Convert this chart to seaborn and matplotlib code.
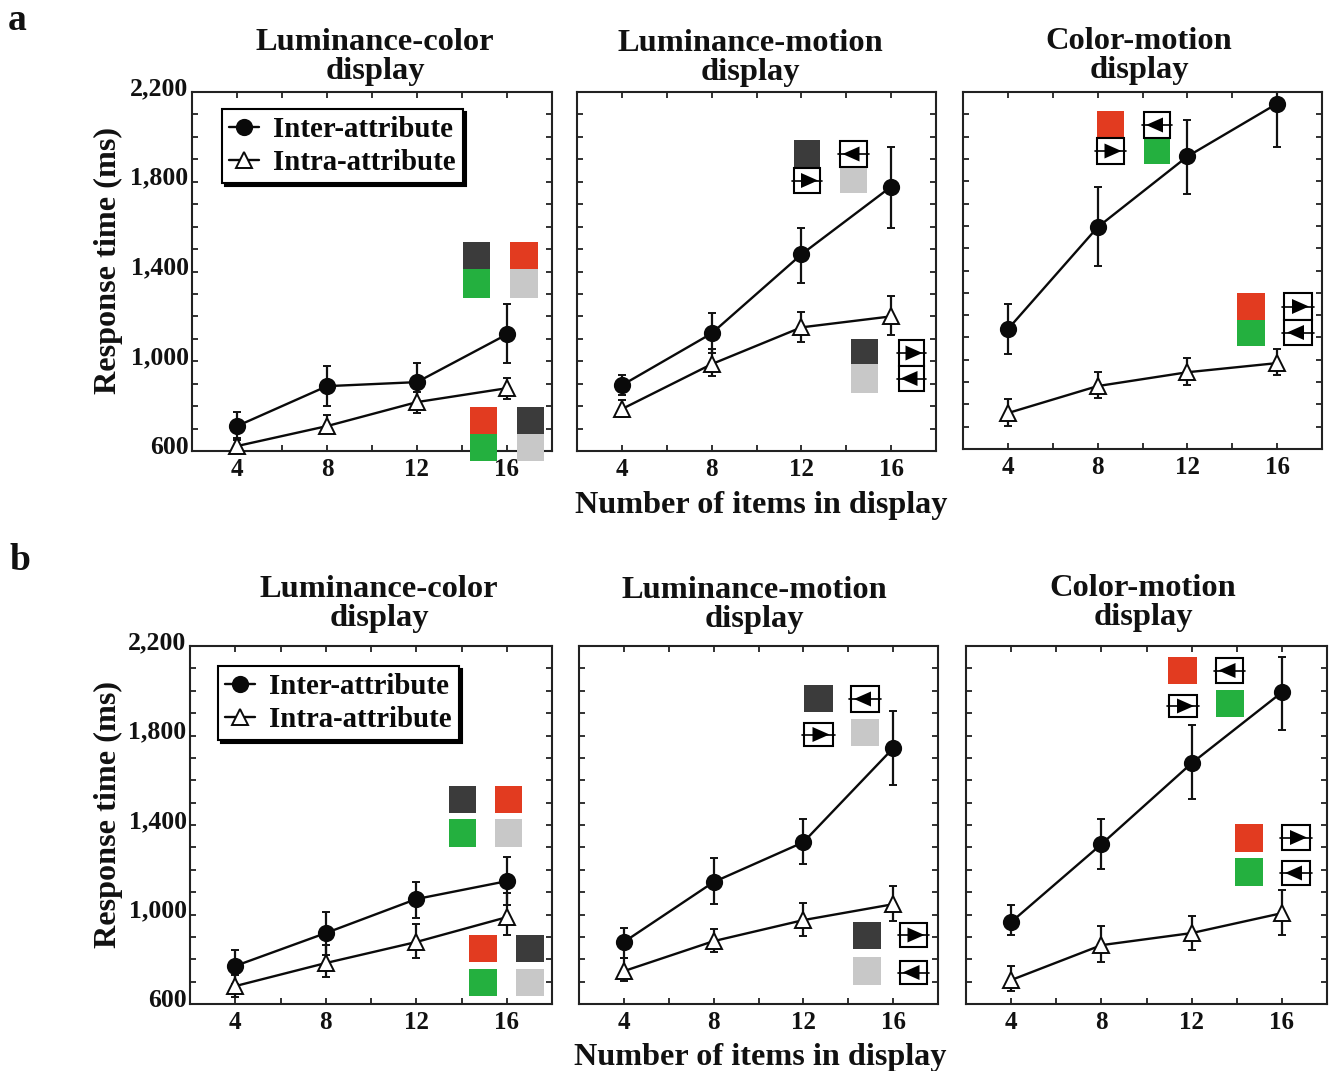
import matplotlib
matplotlib.use("Agg")
import matplotlib.pyplot as plt
import matplotlib.transforms as mtrans
from matplotlib.patches import Rectangle, Polygon
from matplotlib.lines import Line2D
from matplotlib.ticker import MultipleLocator, FixedLocator, FuncFormatter
import seaborn as sns
import numpy as np

sns.set_style("ticks")
plt.rcParams['font.family'] = ['Liberation Serif', 'DejaVu Serif']
plt.rcParams['font.weight'] = 'bold'

W, H = 1329, 1071

items = [4, 8, 12, 16]
y_labelled = [600, 1000, 1400, 1800, 2200]
titles = ["Luminance-color\ndisplay", "Luminance-motion\ndisplay", "Color-motion\ndisplay"]
xlabel_text = "Number of items in display"
ylabel_text = "Response time (ms)"
series_names = ["Inter-attribute", "Intra-attribute"]

a1_inter = [711, 889, 907, 1120]
a1_inter_hi = [773, 978, 990, 1253]
a1_inter_lo = [650, 800, 820, 990]
a1_intra = [622, 711, 818, 880]
a1_intra_hi = [660, 760, 865, 925]
a1_intra_lo = [585, 680, 770, 830]

a2_inter = [893, 1124, 1476, 1778]
a2_inter_hi = [940, 1213, 1595, 1955]
a2_inter_lo = [850, 1035, 1347, 1595]
a2_intra = [787, 987, 1151, 1200]
a2_intra_hi = [827, 1055, 1218, 1293]
a2_intra_lo = [750, 933, 1084, 1115]

a3_inter = [1137, 1594, 1911, 2148]
a3_inter_hi = [1249, 1772, 2076, 2200]
a3_inter_lo = [1025, 1419, 1745, 1955]
a3_intra = [761, 882, 944, 985]
a3_intra_hi = [824, 944, 1007, 1047]
a3_intra_lo = [703, 828, 886, 931]

b1_inter = [770, 917, 1069, 1149]
b1_inter_hi = [841, 1011, 1145, 1256]
b1_inter_lo = [690, 819, 984, 1042]
b1_intra = [680, 783, 877, 988]
b1_intra_hi = [729, 863, 957, 1095]
b1_intra_lo = [631, 720, 805, 908]

b2_inter = [877, 1145, 1323, 1743]
b2_inter_hi = [939, 1252, 1426, 1908]
b2_inter_lo = [805, 1046, 1225, 1578]
b2_intra = [747, 881, 975, 1046]
b2_intra_hi = [805, 935, 1051, 1127]
b2_intra_lo = [703, 832, 904, 971]

b3_inter = [966, 1314, 1676, 1993]
b3_inter_hi = [1042, 1426, 1845, 2153]
b3_inter_lo = [908, 1203, 1515, 1823]
b3_intra = [707, 863, 917, 1006]
b3_intra_hi = [770, 948, 993, 1109]
b3_intra_lo = [658, 788, 841, 908]

panels = [
    ((192, 552, 92, 451), (a1_inter, a1_inter_lo, a1_inter_hi), (a1_intra, a1_intra_lo, a1_intra_hi)),
    ((577, 936, 92, 451), (a2_inter, a2_inter_lo, a2_inter_hi), (a2_intra, a2_intra_lo, a2_intra_hi)),
    ((963, 1322, 92, 449), (a3_inter, a3_inter_lo, a3_inter_hi), (a3_intra, a3_intra_lo, a3_intra_hi)),
    ((190, 552, 646, 1004), (b1_inter, b1_inter_lo, b1_inter_hi), (b1_intra, b1_intra_lo, b1_intra_hi)),
    ((579, 938, 646, 1004), (b2_inter, b2_inter_lo, b2_inter_hi), (b2_intra, b2_intra_lo, b2_intra_hi)),
    ((966, 1327, 646, 1004), (b3_inter, b3_inter_lo, b3_inter_hi), (b3_intra, b3_intra_lo, b3_intra_hi)),
]
title_pos = [(375, 57), (750, 58), (1139, 56), (379, 604), (754, 605), (1143, 603)]
legend_boxes = {0: (222, 109), 3: (218, 666)}

fig = plt.figure(figsize=(W / 100, H / 100), dpi=100, facecolor="white")


def draw(ax, series, name, marker, face):
    v, lo, hi = series
    v, lo, hi = map(np.array, (v, lo, hi))
    ax.errorbar(items, v, yerr=[v - lo, hi - v], fmt="none", ecolor="#111111",
                elinewidth=1.6, capsize=2.6, capthick=1.4, zorder=2)
    sns.lineplot(x=items, y=v, ax=ax, color="#0a0a0a", linewidth=1.7, marker=marker,
                 markersize=11, markerfacecolor=face, markeredgecolor="#0a0a0a",
                 markeredgewidth=1.4, label=name, legend=False, zorder=3, clip_on=False)


for i, (box_px, inter, intra) in enumerate(panels):
    x0, x1, yt, yb = box_px
    ax = fig.add_axes([x0 / W, 1 - yb / H, (x1 - x0) / W, (yb - yt) / H])
    draw(ax, inter, series_names[0], "o", "#0a0a0a")
    draw(ax, intra, series_names[1], "^", "white")
    ax.set_xlim(2, 18)
    ax.set_ylim(600, 2200)
    ax.xaxis.set_major_locator(FixedLocator(items))
    ax.xaxis.set_minor_locator(MultipleLocator(2))
    ax.yaxis.set_major_locator(FixedLocator(y_labelled))
    ax.yaxis.set_minor_locator(MultipleLocator(100))
    ax.tick_params(which="both", direction="in", top=True, right=True, length=4.5, width=1.3,
                   color="#222222")
    ax.tick_params(axis="x", which="major", labelsize=18, pad=5, labelcolor="#111111")
    ax.tick_params(axis="y", which="major", labelsize=18.5, pad=2.5, labelcolor="#111111")
    ax.set_xlabel("")
    ax.set_ylabel("")
    if i % 3 == 0:
        ax.yaxis.set_major_formatter(FuncFormatter(lambda v, _: f"{int(v):,}"))
        off = mtrans.ScaledTranslation(0, 6 / 100, fig.dpi_scale_trans)
        for lab in ax.get_yticklabels():
            lab.set_transform(lab.get_transform() + off)
    else:
        ax.tick_params(axis="y", which="major", labelleft=False)
    for s in ax.spines.values():
        s.set_linewidth(1.5)
        s.set_color("#222222")
    if i in legend_boxes:
        lx, ly = legend_boxes[i]
        leg = ax.legend(loc="upper left",
                        bbox_to_anchor=((lx - x0) / (x1 - x0), 1 - (ly - yt) / (yb - yt)),
                        frameon=True, fancybox=False, framealpha=1, edgecolor="black",
                        fontsize=20.8, handlelength=1.05, handletextpad=0.5, labelspacing=0.22,
                        borderpad=0.23, borderaxespad=0, labelcolor="#0a0a0a",
                        shadow={"color": "black", "alpha": 1, "ox": 2.2, "oy": -2.2})
        leg.get_frame().set_linewidth(1.5)
        leg.set_zorder(10)
    tx, ty = title_pos[i]
    fig.text(tx / W, 1 - ty / H, titles[i % 3], ha="center", va="center", fontsize=23.4,
             fontweight="bold", linespacing=0.97, color="#111111")

fig.text(8 / W, 1 - 20 / H, "a", fontsize=27, ha="left", va="center", fontweight="bold", color="#111111")
fig.text(10 / W, 1 - 561 / H, "b", fontsize=27, ha="left", va="center", fontweight="bold", color="#111111")
fig.text(761 / W, 1 - 506 / H, xlabel_text, fontsize=23.2, ha="center", va="center", fontweight="bold", color="#111111")
fig.text(760 / W, 1 - 1057 / H, xlabel_text, fontsize=23.2, ha="center", va="center", fontweight="bold", color="#111111")
fig.text(108 / W, 1 - 261 / H, ylabel_text, fontsize=23.2, rotation=90, ha="center", va="center", fontweight="bold", color="#111111")
fig.text(108 / W, 1 - 815 / H, ylabel_text, fontsize=23.2, rotation=90, ha="center", va="center", fontweight="bold", color="#111111")

DARK, RED, GREEN, GRAY = "#3b3b3b", "#e23b20", "#24b03f", "#c8c8c8"
px = mtrans.Affine2D().scale(1 / W, -1 / H).translate(0, 1) + fig.transFigure


def sw(x0, x1, y0, y1, c):
    fig.add_artist(Rectangle((x0, y0), x1 - x0, y1 - y0, transform=px, facecolor=c, edgecolor="none", zorder=6))


def box(x0, x1, y0, y1, d):
    fig.add_artist(Rectangle((x0, y0), x1 - x0, y1 - y0, transform=px, facecolor="white",
                             edgecolor="black", linewidth=1.5, zorder=7))
    ym = (y0 + y1) / 2
    fig.add_artist(Line2D([x0 - 2, x1 + 2], [ym, ym], transform=px, color="black", linewidth=1.2, zorder=8))
    xm = (x0 + x1) / 2 + d * 2
    pts = [(xm + d * 9, ym), (xm - d * 8, ym - 7.5), (xm - d * 8, ym + 7.5)]
    fig.add_artist(Polygon(pts, closed=True, transform=px, facecolor="black", edgecolor="none", zorder=9))


# a1
sw(463, 490, 242, 269, DARK); sw(463, 490, 269, 298, GREEN)
sw(510, 538, 242, 269, RED); sw(510, 538, 269, 298, GRAY)
sw(470, 497, 407, 434, RED); sw(470, 497, 434, 461, GREEN)
sw(517, 544, 407, 434, DARK); sw(517, 544, 434, 461, GRAY)
# a2
sw(794, 820, 140, 167, DARK); box(794, 820, 168, 193, 1)
box(840, 867, 141, 167, -1); sw(840, 867, 167, 193, GRAY)
sw(851, 878, 339, 364, DARK); sw(851, 878, 364, 393, GRAY)
box(899, 924, 340, 366, 1); box(899, 924, 366, 391, -1)
# a3
sw(1097, 1124, 111, 138, RED); box(1097, 1124, 138, 164, 1)
box(1144, 1170, 112, 138, -1); sw(1144, 1170, 138, 164, GREEN)
sw(1237, 1265, 293, 320, RED); sw(1237, 1265, 320, 346, GREEN)
box(1284, 1312, 293, 320, 1); box(1284, 1312, 320, 345, -1)
# b1
sw(449, 476, 786, 813, DARK); sw(495, 522, 786, 813, RED)
sw(449, 476, 819, 847, GREEN); sw(495, 522, 819, 847, GRAY)
sw(469, 497, 935, 962, RED); sw(516, 544, 935, 962, DARK)
sw(469, 497, 969, 996, GREEN); sw(516, 544, 969, 996, GRAY)
# b2
sw(804, 833, 685, 712, DARK); box(851, 879, 686, 712, -1)
box(804, 833, 723, 746, 1); sw(851, 879, 719, 746, GRAY)
sw(853, 881, 922, 949, DARK); box(900, 927, 923, 947, 1)
sw(853, 881, 957, 985, GRAY); box(900, 927, 961, 984, -1)
# b3
sw(1168, 1197, 657, 684, RED); box(1216, 1243, 658, 683, -1)
box(1169, 1197, 695, 717, 1); sw(1216, 1244, 690, 717, GREEN)
sw(1235, 1263, 824, 852, RED); box(1282, 1310, 825, 850, 1)
sw(1235, 1263, 858, 886, GREEN); box(1282, 1310, 861, 885, -1)

fig.savefig("out.png", dpi=100, facecolor="white")
